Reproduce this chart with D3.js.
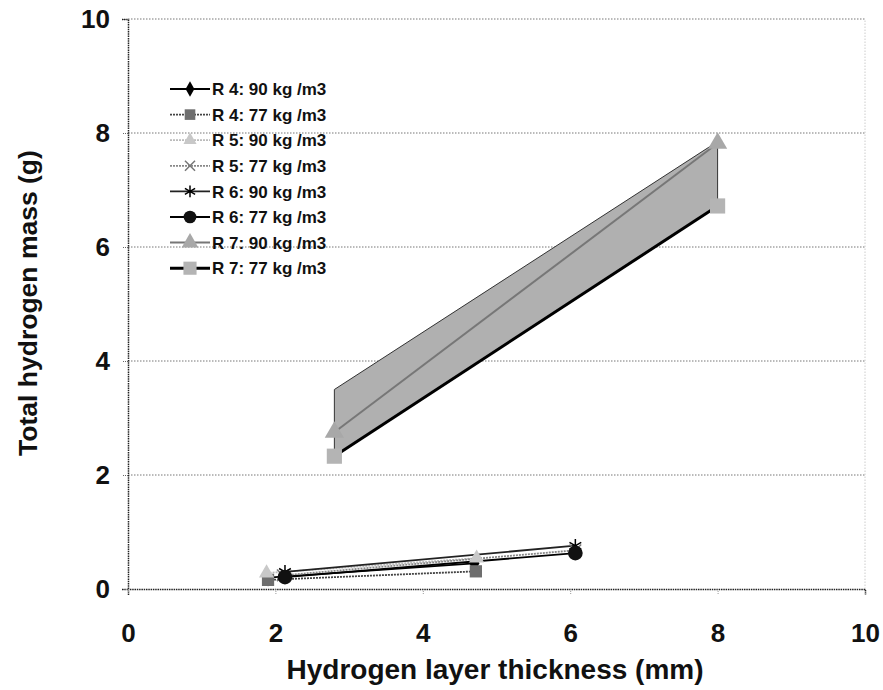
<!DOCTYPE html>
<meta charset="utf-8">
<style>
  body { margin: 0; background: #fff; }
  text { font-family: "Liberation Sans", Arial, sans-serif; font-weight: bold; fill: #111; }
  .grid line { stroke: #777; stroke-width: 1; stroke-dasharray: 1.5 1.5; }
</style>
<svg width="883" height="690"></svg>
<script src="https://d3js.org/d3.v7.min.js"></script>
<script>
  // series: [name, x values, y values]
  var seriesNames = ["R 4: 90 kg /m3", "R 4: 77 kg /m3", "R 5: 90 kg /m3", "R 5: 77 kg /m3",
                     "R 6: 90 kg /m3", "R 6: 77 kg /m3", "R 7: 90 kg /m3", "R 7: 77 kg /m3"];
  var r4_90x = [1.9, 4.7], r4_90y = [0.2, 0.45];
  var r4_77x = [1.9, 4.72], r4_77y = [0.16, 0.31];
  var r5_90x = [1.88, 4.73], r5_90y = [0.28, 0.54];
  var r5_77x = [2.1, 6.07], r5_77y = [0.24, 0.68];
  var r6_90x = [2.13, 6.07], r6_90y = [0.3, 0.76];
  var r6_77x = [2.13, 6.07], r6_77y = [0.21, 0.63];
  var r7_90x = [2.8, 8.0], r7_90y = [2.75, 7.82];
  var r7_77x = [2.8, 8.0], r7_77y = [2.33, 6.72];
  // shaded ribbon upper edge above the R7 lines
  var bandX = [2.8, 8.0], bandTop = [3.5, 7.85];
  var xTicks = [0, 2, 4, 6, 8, 10];
  var yTicks = [0, 2, 4, 6, 8, 10];

  var svg = d3.select("svg");
  var x = d3.scaleLinear().domain([0, 10]).range([128, 865]);
  var y = d3.scaleLinear().domain([0, 10]).range([589, 19]);

  var styles = [
    {line: "#000", w: 1.8, dash: null, sym: d3.symbolDiamond, size: 90, fill: "#000", stroke: "none"},
    {line: "#444", w: 1.8, dash: "2 1", sym: d3.symbolSquare, size: 150, fill: "#6e6e6e", stroke: "none"},
    {line: "#bbb", w: 1.8, dash: "2 1", sym: d3.symbolTriangle, size: 100, fill: "#c8c8c8", stroke: "none"},
    {line: "#888", w: 1.8, dash: "2 1", sym: d3.symbolTimes, size: 90, fill: "none", stroke: "#777"},
    {line: "#222", w: 1.8, dash: null, sym: d3.symbolAsterisk, size: 130, fill: "none", stroke: "#000"},
    {line: "#000", w: 1.8, dash: null, sym: d3.symbolCircle, size: 170, fill: "#111", stroke: "none"},
    {line: "#777", w: 2, dash: null, sym: d3.symbolTriangle, size: 160, fill: "#a8a8a8", stroke: "none"},
    {line: "#000", w: 3, dash: null, sym: d3.symbolSquare, size: 230, fill: "#b4b4b4", stroke: "none"}
  ];
  var series = [
    [r4_90x, r4_90y], [r4_77x, r4_77y], [r5_90x, r5_90y], [r5_77x, r5_77y],
    [r6_90x, r6_90y], [r6_77x, r6_77y], [r7_90x, r7_90y], [r7_77x, r7_77y]
  ].map(function(s, i) {
    return {name: seriesNames[i], st: styles[i],
            pts: s[0].map(function(v, j) { return [v, s[1][j]]; })};
  });

  // gridlines
  var grid = svg.append("g").attr("class", "grid");
  grid.selectAll("line.h").data(yTicks.slice(1)).enter().append("line")
    .attr("x1", x(0)).attr("x2", x(10))
    .attr("y1", function(d) { return y(d); }).attr("y2", function(d) { return y(d); });
  grid.append("line").attr("x1", x(10)).attr("x2", x(10)).attr("y1", y(0)).attr("y2", y(10))
    .style("stroke", "#ccc");

  // axes
  var yAxis = d3.axisLeft(y).tickValues(yTicks).tickSize(6).tickPadding(12);
  var gy = svg.append("g").attr("transform", "translate(" + x(0) + ",0)").call(yAxis);
  gy.select(".domain").attr("stroke", "#222").attr("stroke-width", 1.5).attr("stroke-dasharray", "1.5 0.8");
  gy.selectAll(".tick line").attr("stroke", "#666").attr("stroke-dasharray", "1 1");
  gy.selectAll(".tick text").style("font-size", "26px").attr("fill", "#111");

  var xAxis = d3.axisBottom(x).tickValues(xTicks).tickSize(6).tickPadding(29);
  var gx = svg.append("g").attr("transform", "translate(0," + y(0) + ")").call(xAxis);
  gx.select(".domain").attr("stroke", "#222").attr("stroke-width", 1.5).attr("stroke-dasharray", "1.5 0.8");
  gx.selectAll(".tick line").attr("stroke", "#999").attr("stroke-dasharray", "1 1");
  gx.selectAll(".tick text").style("font-size", "26px").attr("fill", "#111");

  // ribbon behind R7
  var bandPts = bandX.map(function(v, i) { return [x(v), y(bandTop[i])]; })
    .concat(r7_77x.map(function(v, i) { return [x(v), y(r7_77y[i])]; }).reverse());
  bandPts.splice(0, 0, [x(r7_90x[0]), y(r7_90y[0])]);
  svg.append("polygon")
    .attr("points", bandPts.map(function(p) { return p.join(","); }).join(" "))
    .attr("fill", "#b0b0b0").attr("stroke", "#333").attr("stroke-width", 1);

  var line = d3.line().x(function(d) { return x(d[0]); }).y(function(d) { return y(d[1]); });

  var g = svg.append("g");
  series.forEach(function(s) {
    g.append("path").attr("d", line(s.pts)).attr("fill", "none")
      .attr("stroke", s.st.line).attr("stroke-width", s.st.w)
      .attr("stroke-dasharray", s.st.dash);
  });
  series.forEach(function(s) {
    g.selectAll(null).data(s.pts).enter().append("path")
      .attr("d", d3.symbol().type(s.st.sym).size(s.st.size))
      .attr("transform", function(d) { return "translate(" + x(d[0]) + "," + y(d[1]) + ")"; })
      .attr("fill", s.st.fill).attr("stroke", s.st.stroke).attr("stroke-width", 1.5);
  });

  // legend
  var leg = svg.append("g").attr("transform", "translate(170,89)");
  var rows = leg.selectAll("g").data(series).enter().append("g")
    .attr("transform", function(d, i) { return "translate(0," + (i * 25.6) + ")"; });
  rows.append("line").attr("x1", 0).attr("x2", 40)
    .attr("stroke", function(d) { return d.st.line; })
    .attr("stroke-width", function(d) { return d.st.w; })
    .attr("stroke-dasharray", function(d) { return d.st.dash; });
  rows.append("path")
    .attr("d", function(d) { return d3.symbol().type(d.st.sym).size(d.st.size * 0.75)(); })
    .attr("transform", "translate(20,0)")
    .attr("fill", function(d) { return d.st.fill; })
    .attr("stroke", function(d) { return d.st.stroke; }).attr("stroke-width", 1.5);
  rows.append("text").attr("x", 42).attr("dy", "0.36em")
    .style("font-size", "17px").text(function(d) { return d.name; });

  // axis titles
  svg.append("text").attr("x", 495).attr("y", 679).attr("text-anchor", "middle")
    .style("font-size", "28px").text("Hydrogen layer thickness (mm)");
  svg.append("text").attr("transform", "translate(37,303) rotate(-90)").attr("text-anchor", "middle")
    .style("font-size", "26.5px").text("Total hydrogen mass (g)");
</script>
